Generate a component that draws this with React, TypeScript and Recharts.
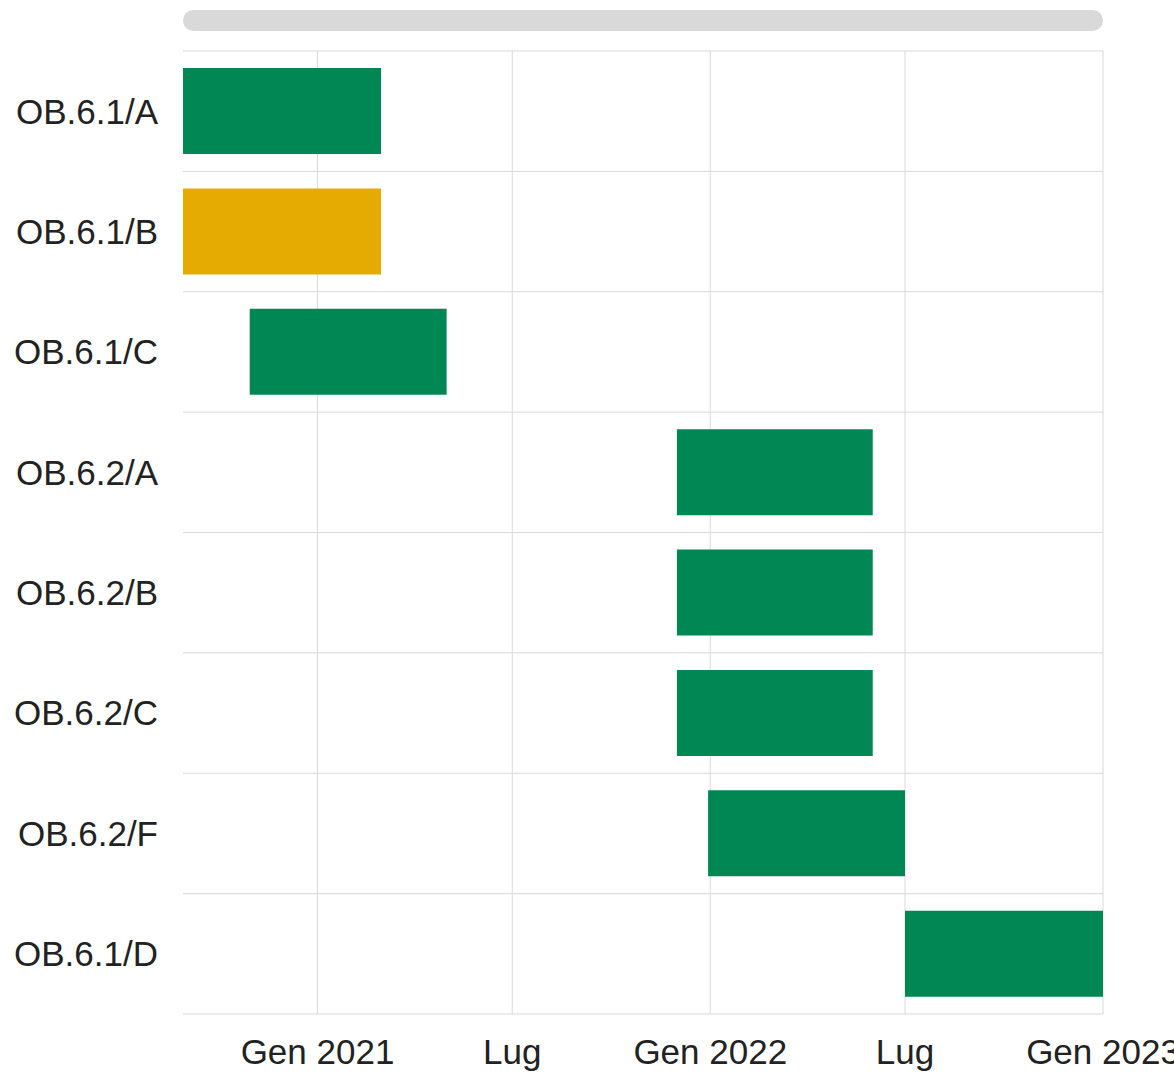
import { BarChart, Bar, XAxis, YAxis, CartesianGrid, Cell } from 'recharts';

const tasks = ['OB.6.1/A', 'OB.6.1/B', 'OB.6.1/C', 'OB.6.2/A', 'OB.6.2/B', 'OB.6.2/C', 'OB.6.2/F', 'OB.6.1/D'];
const starts = ['2020-08-29', '2020-08-29', '2020-10-30', '2021-12-01', '2021-12-01', '2021-12-01', '2021-12-30', '2022-07-01'];
const ends = ['2021-03-01', '2021-03-01', '2021-05-01', '2022-06-01', '2022-06-01', '2022-06-01', '2022-07-01', '2023-01-01'];
const statuses = ['ok', 'ritardo', 'ok', 'ok', 'ok', 'ok', 'ok', 'ok'];

const tickDates = ['2021-01-01', '2021-07-01', '2022-01-01', '2022-07-01', '2023-01-01'];
const tickLabels = ['Gen 2021', 'Lug', 'Gen 2022', 'Lug', 'Gen 2023'];

const domainStart = '2020-08-29';
const domainEnd = '2023-01-01';

const statusColors: Record<string, string> = { ok: '#008753', ritardo: '#e6ab02' };

const data = tasks.map((task, i) => ({
  task,
  range: [Date.parse(starts[i]), Date.parse(ends[i])],
  status: statuses[i],
}));

const ticks = tickDates.map((d) => Date.parse(d));
const domain = [Date.parse(domainStart), Date.parse(domainEnd)];

// linee verticali solo sui tick (niente linea sul bordo sinistro)
const verticalLines = ({ xAxis, offset }: any) =>
  ticks.map((t) =>
    xAxis && typeof xAxis.scale === 'function'
      ? xAxis.scale(t)
      : offset.left + ((t - domain[0]) / (domain[1] - domain[0])) * offset.width
  );

// una linea per ogni bordo di riga
const horizontalLines = ({ offset }: any) =>
  Array.from({ length: tasks.length + 1 }, (_, i) => offset.top + (i * offset.height) / tasks.length);

const App = () => {
  return (
    <div
      style={{
        position: 'fixed',
        top: 0,
        left: 0,
        width: 1174,
        height: 1075,
        overflow: 'hidden',
        background: '#fff',
        fontFamily: 'Arial, "Liberation Sans", sans-serif',
      }}
    >
      {/* barra di scorrimento in alto */}
      <div
        style={{
          position: 'absolute',
          left: 183,
          top: 10,
          width: 920,
          height: 21,
          borderRadius: 11,
          background: '#d9d9d9',
        }}
      />
      <BarChart
        width={1174}
        height={1075}
        data={data}
        layout="vertical"
        margin={{ top: 51, right: 71, bottom: 0, left: 0 }}
        barSize={86}
      >
        <CartesianGrid
          stroke="#d9d9d9"
          verticalCoordinatesGenerator={verticalLines}
          horizontalCoordinatesGenerator={horizontalLines}
        />
        <XAxis
          type="number"
          domain={domain}
          allowDataOverflow
          ticks={ticks}
          tickFormatter={(v: number) => tickLabels[ticks.indexOf(v)] ?? ''}
          height={61}
          tickSize={0}
          tickMargin={25}
          axisLine={false}
          tick={{ fontSize: 35, fill: '#222' }}
          interval={0}
        />
        <YAxis
          type="category"
          dataKey="task"
          width={183}
          tickSize={0}
          tickMargin={25}
          axisLine={false}
          tick={{ fontSize: 35, fill: '#222' }}
          interval={0}
        />
        <Bar dataKey="range" isAnimationActive={false}>
          {data.map((d) => (
            <Cell key={d.task} fill={statusColors[d.status]} />
          ))}
        </Bar>
      </BarChart>
    </div>
  );
};

export default App;
